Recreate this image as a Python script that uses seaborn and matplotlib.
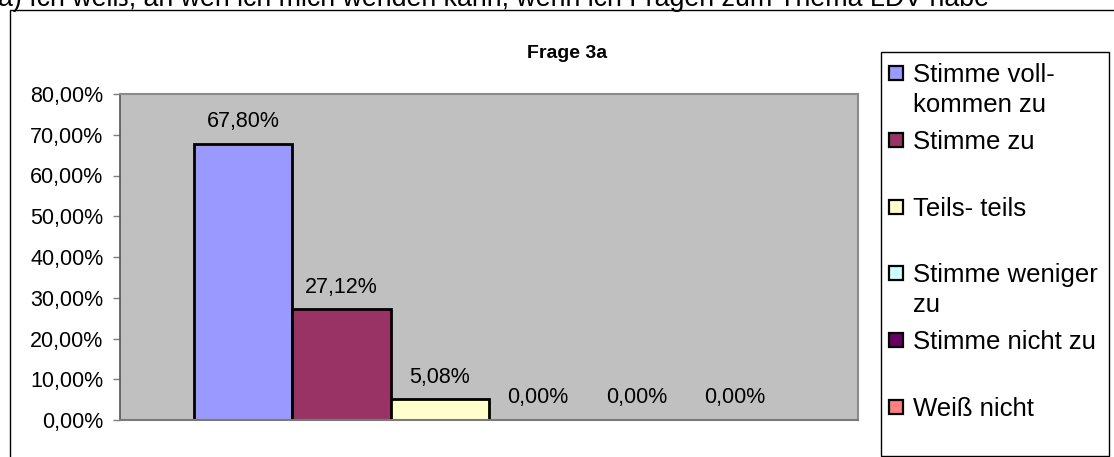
import matplotlib
matplotlib.use("Agg")
import matplotlib.pyplot as plt
from matplotlib.patches import Rectangle
from matplotlib.ticker import FuncFormatter
import pandas as pd
import seaborn as sns

# Survey answers for question 3a
antworten = ["Stimme voll-\nkommen zu", "Stimme zu", "Teils- teils",
             "Stimme weniger\nzu", "Stimme nicht zu", "Weiß nicht"]
anteile = [67.80, 27.12, 5.08, 0.00, 0.00, 0.00]
farben = ["#9999FF", "#993366", "#FFFFCC", "#CCFFFF", "#660066", "#FF8080"]
y_ticks = [0, 10, 20, 30, 40, 50, 60, 70, 80]
titel = "Frage 3a"
frage_text = "a) Ich weiß, an wen ich mich wenden kann, wenn ich Fragen zum Thema LDV habe"

sns.set_style("white")
plt.rcParams["font.family"] = ["Liberation Sans", "DejaVu Sans"]
plt.rcParams["text.color"] = "black"

df = pd.DataFrame({"frage": [titel] * len(antworten),
                   "antwort": antworten,
                   "anteil": anteile})

W, H = 1114, 457
fig = plt.figure(figsize=(W / 100, H / 100), dpi=100)
fig.patch.set_facecolor("white")

# plot area in pixel terms
px_l, px_r, px_t, px_b = 120, 858, 94, 420
ax = fig.add_axes([px_l / W, 1 - px_b / H, (px_r - px_l) / W, (px_b - px_t) / H])
ax.set_facecolor("#C0C0C0")

sns.barplot(data=df, x="frage", y="anteil", hue="antwort",
            hue_order=antworten, palette=farben, width=0.8,
            edgecolor="black", linewidth=2, saturation=1,
            legend=False, ax=ax)

ax.set_xlim(-0.5, 0.5)
ax.set_ylim(0, 80)
ax.set_yticks(y_ticks)
ax.yaxis.set_major_formatter(FuncFormatter(lambda v, p: f"{v:.2f}%".replace(".", ",")))
ax.set_xticks([])
ax.set_xlabel("")
ax.set_ylabel("")
ax.tick_params(axis="y", which="major", direction="out", length=5, width=1,
               color="#7f7f7f", pad=7, labelsize=15.5, labelcolor="black", left=True)

for side in ["top", "right"]:
    ax.spines[side].set_color("#8a8a8a")
    ax.spines[side].set_linewidth(1.5)
ax.spines["left"].set_color("#555555")
ax.spines["left"].set_linewidth(1.2)
ax.spines["bottom"].set_color("#7a7a7a")
ax.spines["bottom"].set_linewidth(1.5)

# value labels above each bar
for cont in ax.containers:
    for bar in cont:
        h = bar.get_height()
        ax.annotate(f"{h:.2f}%".replace(".", ","),
                    (bar.get_x() + bar.get_width() / 2, h),
                    xytext=(0, 16), textcoords="offset points",
                    ha="center", va="center", fontsize=15.5, color="black")

# chart title
fig.text(567 / W, 1 - 53 / H, titel, ha="center", va="center",
         fontsize=14, fontweight="bold")

# question text along the top edge
fig.text(-2 / W, 1 - 6 / H, frage_text, ha="left", va="baseline", fontsize=19.3)

# outer chart frame
fig.patches.append(Rectangle((10 / W, -0.05), 1.1, 1 - 10 / H + 0.05,
                             transform=fig.transFigure, fill=False,
                             edgecolor="black", linewidth=1))

# legend box with entries
lx0, ly0, lx1, ly1 = 881, 52, 1109, 456
fig.patches.append(Rectangle((lx0 / W, 1 - ly1 / H), (lx1 - lx0) / W, (ly1 - ly0) / H,
                             transform=fig.transFigure, facecolor="white",
                             edgecolor="black", linewidth=1))
first_y, step = 73, 66.8
for i, (lab, col) in enumerate(zip(antworten, farben)):
    cy = first_y + i * step
    fig.patches.append(Rectangle((889 / W, 1 - (cy + 7) / H), 14 / W, 14 / H,
                                 transform=fig.transFigure, facecolor=col,
                                 edgecolor="black", linewidth=1.6))
    fig.text(913 / W, 1 - (cy + 9) / H, lab.split("\n")[0], ha="left",
             va="baseline", fontsize=18.5)
    if "\n" in lab:
        fig.text(913 / W, 1 - (cy + 9 + 29.5) / H, lab.split("\n")[1], ha="left",
                 va="baseline", fontsize=18.5)

fig.savefig("out.png", dpi=100, facecolor="white")
